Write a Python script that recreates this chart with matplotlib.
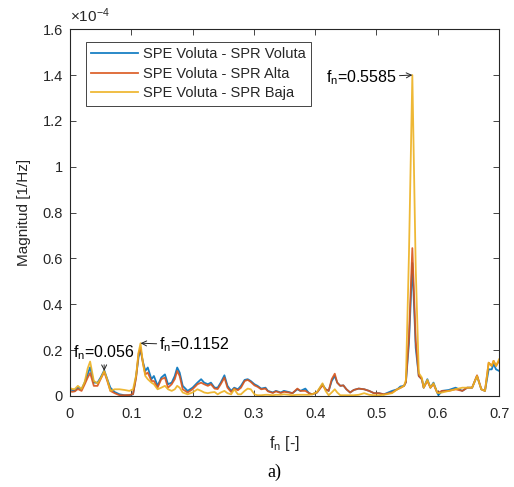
import matplotlib
matplotlib.use("Agg")
import matplotlib.pyplot as plt
from matplotlib.ticker import FuncFormatter, MultipleLocator

plt.rcParams['font.family'] = ['Liberation Sans', 'DejaVu Sans']
plt.rcParams['mathtext.fontset'] = 'custom'
plt.rcParams['mathtext.rm'] = 'Liberation Sans'
plt.rcParams['mathtext.it'] = 'Liberation Sans'

# normalised frequency f_n [-]
fn = [0.000, 0.004, 0.008, 0.013, 0.019, 0.024, 0.029, 0.033, 0.039, 0.045,
      0.050, 0.056, 0.061, 0.066, 0.073, 0.081, 0.089, 0.097, 0.103, 0.108,
      0.112, 0.1152, 0.119, 0.123, 0.127, 0.133, 0.137, 0.143, 0.149, 0.155,
      0.160, 0.166, 0.171, 0.175, 0.179, 0.184, 0.192, 0.200, 0.208, 0.214,
      0.219, 0.225, 0.230, 0.236, 0.241, 0.246, 0.252, 0.257, 0.263, 0.268,
      0.274, 0.279, 0.285, 0.290, 0.295, 0.301, 0.306, 0.312, 0.319, 0.323,
      0.331, 0.336, 0.344, 0.349, 0.357, 0.363, 0.371, 0.376, 0.384, 0.390,
      0.395, 0.403, 0.412, 0.417, 0.422, 0.427, 0.432, 0.436, 0.441, 0.446,
      0.451, 0.457, 0.463, 0.471, 0.480, 0.488, 0.496, 0.504, 0.512, 0.5255,
      0.534, 0.539, 0.545, 0.548, 0.553, 0.5585, 0.564, 0.569, 0.574, 0.577,
      0.583, 0.588, 0.593, 0.599, 0.601, 0.607, 0.618, 0.629, 0.640, 0.648,
      0.656, 0.664, 0.671, 0.677, 0.683, 0.688, 0.691, 0.695, 0.700]

# magnitude, x 1e-4 [1/Hz]
spr_voluta = [0.030, 0.025, 0.022, 0.036, 0.029, 0.058, 0.095, 0.125, 0.058, 0.058,
              0.080, 0.112, 0.073, 0.036, 0.017, 0.007, 0.003, 0.003, 0.007, 0.087,
              0.170, 0.200, 0.150, 0.109, 0.124, 0.073, 0.087, 0.044, 0.080, 0.094,
              0.051, 0.058, 0.087, 0.124, 0.102, 0.044, 0.022, 0.036, 0.058, 0.073,
              0.058, 0.051, 0.058, 0.036, 0.036, 0.058, 0.090, 0.044, 0.022, 0.036,
              0.029, 0.044, 0.070, 0.073, 0.065, 0.051, 0.044, 0.032, 0.036, 0.022,
              0.015, 0.022, 0.015, 0.022, 0.017, 0.012, 0.029, 0.022, 0.032, 0.012,
              0.007, 0.015, 0.051, 0.029, 0.022, 0.065, 0.087, 0.058, 0.044, 0.046,
              0.029, 0.015, 0.026, 0.032, 0.029, 0.022, 0.012, 0.012, 0.007, 0.022,
              0.029, 0.041, 0.044, 0.060, 0.230, 0.580, 0.210, 0.087, 0.073, 0.036,
              0.073, 0.036, 0.058, 0.015, 0.003, 0.022, 0.026, 0.036, 0.022, 0.036,
              0.036, 0.087, 0.029, 0.022, 0.116, 0.116, 0.140, 0.116, 0.109]

spr_alta = [0.020, 0.018, 0.020, 0.030, 0.022, 0.050, 0.080, 0.100, 0.044, 0.044,
            0.073, 0.105, 0.065, 0.022, 0.012, 0.003, 0.003, 0.004, 0.008, 0.080,
            0.185, 0.210, 0.145, 0.094, 0.102, 0.065, 0.065, 0.036, 0.073, 0.080,
            0.036, 0.051, 0.073, 0.109, 0.087, 0.029, 0.015, 0.029, 0.051, 0.058,
            0.051, 0.044, 0.051, 0.032, 0.030, 0.051, 0.080, 0.036, 0.017, 0.032,
            0.025, 0.036, 0.065, 0.070, 0.061, 0.046, 0.040, 0.029, 0.032, 0.020,
            0.013, 0.020, 0.013, 0.018, 0.015, 0.012, 0.032, 0.022, 0.022, 0.012,
            0.007, 0.015, 0.046, 0.029, 0.022, 0.073, 0.097, 0.058, 0.044, 0.046,
            0.029, 0.015, 0.026, 0.032, 0.029, 0.022, 0.012, 0.012, 0.007, 0.015,
            0.029, 0.035, 0.044, 0.060, 0.260, 0.645, 0.240, 0.087, 0.073, 0.036,
            0.065, 0.036, 0.051, 0.015, 0.015, 0.022, 0.022, 0.029, 0.022, 0.036,
            0.036, 0.090, 0.029, 0.022, 0.145, 0.131, 0.153, 0.131, 0.153]

spr_baja = [0.035, 0.030, 0.030, 0.044, 0.030, 0.060, 0.120, 0.150, 0.065, 0.055,
            0.075, 0.109, 0.070, 0.022, 0.029, 0.029, 0.026, 0.022, 0.029, 0.090,
            0.190, 0.230, 0.145, 0.087, 0.073, 0.058, 0.051, 0.029, 0.036, 0.044,
            0.029, 0.022, 0.029, 0.044, 0.036, 0.015, 0.007, 0.015, 0.029, 0.022,
            0.015, 0.012, 0.015, 0.017, 0.007, 0.015, 0.022, 0.012, 0.007, 0.029,
            0.007, 0.007, 0.022, 0.032, 0.029, 0.007, 0.003, 0.003, 0.005, 0.005,
            0.003, 0.005, 0.005, 0.007, 0.005, 0.003, 0.005, 0.005, 0.005, 0.005,
            0.007, 0.017, 0.055, 0.022, 0.003, 0.015, 0.029, 0.015, 0.003, 0.003,
            0.003, 0.003, 0.003, 0.005, 0.012, 0.005, 0.003, 0.003, 0.005, 0.012,
            0.029, 0.035, 0.044, 0.070, 0.620, 1.400, 0.560, 0.100, 0.080, 0.036,
            0.070, 0.036, 0.055, 0.015, 0.012, 0.015, 0.022, 0.029, 0.036, 0.036,
            0.036, 0.087, 0.029, 0.022, 0.145, 0.131, 0.153, 0.131, 0.160]

labels = ["SPE Voluta - SPR Voluta", "SPE Voluta - SPR Alta", "SPE Voluta - SPR Baja"]
colors = ["#0072BD", "#D95319", "#EDB120"]

# peaks marked with arrows: (f_n, magnitude)
peaks = [(0.056, 0.109), (0.1152, 0.230), (0.5585, 1.400)]

dark = "#262626"

fig = plt.figure(figsize=(5.14, 4.87), dpi=100)
ax = fig.add_axes([0.136, 0.187, 0.835, 0.753])

for y, lab, c in zip([spr_voluta, spr_alta, spr_baja], labels, colors):
    ax.plot(fn, y, color=c, lw=1.3, alpha=0.9, label=lab)

ax.set_xlim(0, 0.7)
ax.set_ylim(0, 1.6)
ax.xaxis.set_major_locator(MultipleLocator(0.1))
ax.yaxis.set_major_locator(MultipleLocator(0.2))
fmt = FuncFormatter(lambda v, p: "%g" % round(v, 4))
ax.xaxis.set_major_formatter(fmt)
ax.yaxis.set_major_formatter(fmt)
ax.tick_params(direction="in", top=True, right=True, length=4, width=0.6,
               colors=dark, labelsize=10.5)
ax.tick_params(axis="x", pad=8)
ax.tick_params(axis="y", pad=5)
for s in ax.spines.values():
    s.set_color(dark)
    s.set_linewidth(0.8)

ax.set_xlabel("f$_\\mathregular{n}$ [-]", fontsize=11.5, color=dark, labelpad=9)
ax.set_ylabel("Magnitud [1/Hz]", fontsize=11, color=dark, labelpad=8)
ax.text(0.0, 1.012, "\u00d710$^{-4}$", transform=ax.transAxes, fontsize=11,
        color=dark, ha="left", va="bottom")

leg = ax.legend(loc="upper left", bbox_to_anchor=(0.037, 0.966), fontsize=10.5,
                handlelength=3.2, handletextpad=0.35, borderpad=0.35,
                labelspacing=0.4, fancybox=False, framealpha=1, borderaxespad=0)
leg.get_frame().set_edgecolor(dark)
leg.get_frame().set_linewidth(0.6)
for t in leg.get_texts():
    t.set_color(dark)

arrow = dict(arrowstyle="->", color=dark, lw=0.7, shrinkA=0, shrinkB=0,
             mutation_scale=9)
ax.annotate("f$_\\mathregular{n}$=0.056", xy=peaks[0], xytext=(0.0555, 0.148),
            ha="center", va="bottom", fontsize=11.5, color="black",
            arrowprops=arrow)
ax.annotate("f$_\\mathregular{n}$=0.1152", xy=peaks[1], xytext=(0.146, 0.222),
            ha="left", va="center", fontsize=11.5, color="black",
            arrowprops=arrow)
ax.annotate("f$_\\mathregular{n}$=0.5585", xy=peaks[2], xytext=(0.533, 1.39),
            ha="right", va="center", fontsize=11.5, color="black",
            arrowprops=arrow)

fig.text(0.533, 0.012, "a)", fontsize=13, family="Liberation Serif",
         ha="center", va="bottom")

fig.savefig("out.png", dpi=100)
